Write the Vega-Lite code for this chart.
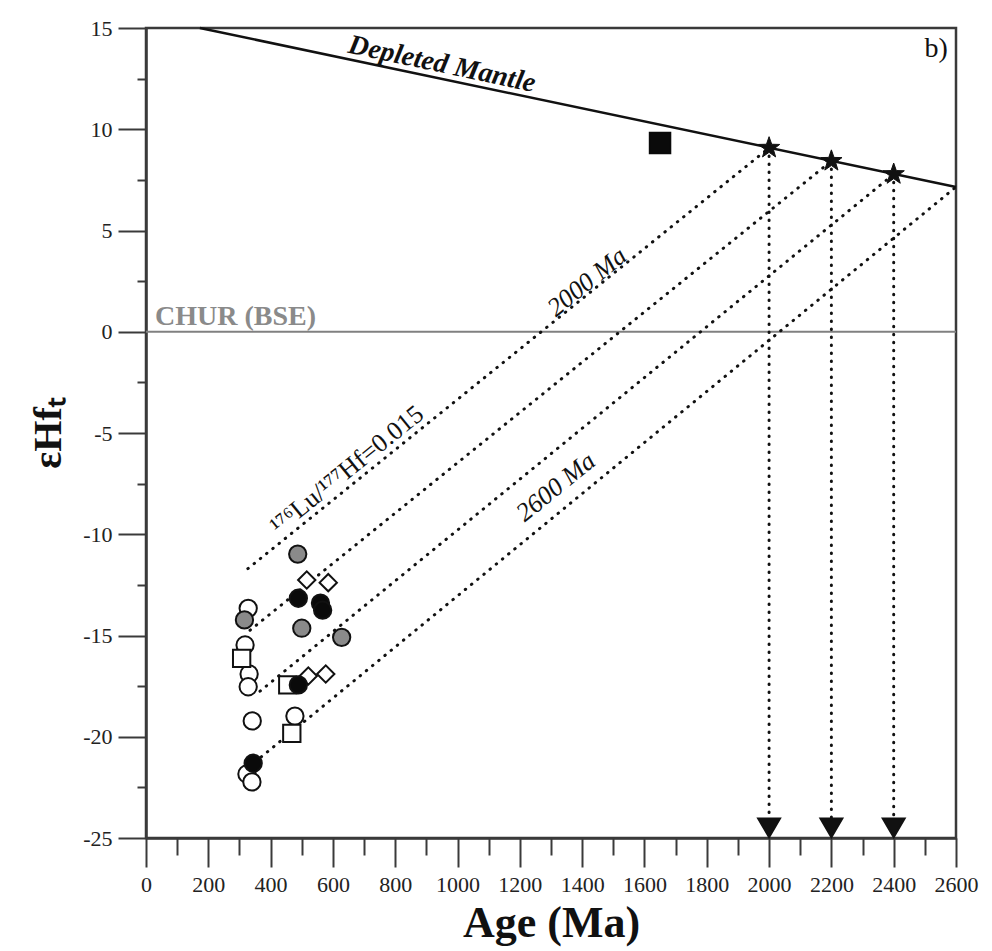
{
  "$schema": "https://vega.github.io/schema/vega-lite/v6.json",
  "width": 810,
  "height": 810,
  "autosize": {"type": "none"},
  "padding": {"left": 146, "top": 28, "right": 36, "bottom": 113},
  "background": "white",
  "config": {
    "view": {"stroke": "#3a3a3a", "strokeWidth": 2.5},
    "font": "Liberation Serif"
  },
  "datasets": {
    "lines": [
      {"id": "DM", "age": 173, "ehf": 15},
      {"id": "DM", "age": 2600, "ehf": 7.15}
    ],
    "chur": [
      {"id": "CHUR", "age": 0, "ehf": 0},
      {"id": "CHUR", "age": 2600, "ehf": 0}
    ],
    "dotted": [
      {"id": "A", "age": 327, "ehf": -11.7},
      {"id": "A", "age": 2000, "ehf": 9.08},
      {"id": "B", "age": 334, "ehf": -14.74},
      {"id": "B", "age": 2200, "ehf": 8.43},
      {"id": "C", "age": 366, "ehf": -17.75},
      {"id": "C", "age": 2400, "ehf": 7.78},
      {"id": "D", "age": 330, "ehf": -21.5},
      {"id": "D", "age": 2600, "ehf": 7.15},
      {"id": "V1", "age": 2000, "ehf": 9.08},
      {"id": "V1", "age": 2000, "ehf": -24.5},
      {"id": "V2", "age": 2200, "ehf": 8.43},
      {"id": "V2", "age": 2200, "ehf": -24.5},
      {"id": "V3", "age": 2400, "ehf": 7.78},
      {"id": "V3", "age": 2400, "ehf": -24.5}
    ],
    "samples": [
      {"type": "open circle", "age": 328, "ehf": -13.66},
      {"type": "open circle", "age": 318, "ehf": -15.47},
      {"type": "open circle", "age": 331, "ehf": -16.9},
      {"type": "open circle", "age": 328, "ehf": -17.53},
      {"type": "open circle", "age": 341, "ehf": -19.22},
      {"type": "open circle", "age": 478, "ehf": -18.98},
      {"type": "open circle", "age": 324, "ehf": -21.84},
      {"type": "open circle", "age": 340, "ehf": -22.23},
      {"type": "open square", "age": 307, "ehf": -16.13},
      {"type": "open square", "age": 455, "ehf": -17.44},
      {"type": "open square", "age": 468, "ehf": -19.83},
      {"type": "open diamond", "age": 516, "ehf": -12.26},
      {"type": "open diamond", "age": 585, "ehf": -12.39},
      {"type": "open diamond", "age": 521, "ehf": -17.0},
      {"type": "open diamond", "age": 577, "ehf": -16.9},
      {"type": "gray circle", "age": 487, "ehf": -10.98},
      {"type": "gray circle", "age": 316, "ehf": -14.23},
      {"type": "gray circle", "age": 500, "ehf": -14.64},
      {"type": "gray circle", "age": 628, "ehf": -15.09},
      {"type": "black circle", "age": 489, "ehf": -13.16},
      {"type": "black circle", "age": 560, "ehf": -13.4},
      {"type": "black circle", "age": 567, "ehf": -13.75},
      {"type": "black circle", "age": 489, "ehf": -17.44},
      {"type": "black circle", "age": 344, "ehf": -21.31}
    ],
    "stars": [
      {"age": 2000, "ehf": 9.08},
      {"age": 2200, "ehf": 8.43},
      {"age": 2400, "ehf": 7.78}
    ],
    "triangles": [
      {"age": 2000, "ehf": -24.5},
      {"age": 2200, "ehf": -24.5},
      {"age": 2400, "ehf": -24.5}
    ],
    "square": [
      {"age": 1650, "ehf": 9.32}
    ]
  },
  "encoding": {
    "x": {
      "field": "age",
      "type": "quantitative",
      "scale": {"domain": [0, 2600], "nice": false, "zero": false},
      "axis": {
        "values": [0, 100, 200, 300, 400, 500, 600, 700, 800, 900, 1000, 1100, 1200, 1300, 1400, 1500, 1600, 1700, 1800, 1900, 2000, 2100, 2200, 2300, 2400, 2500, 2600],
        "labelExpr": "datum.value % 200 === 0 ? '' + datum.value : ''",
        "tickSize": {"condition": {"test": "datum.value % 200 !== 0", "value": 17}, "value": 29},
        "labelPadding": 7,
        "labelFontSize": 22,
        "labelFont": "Liberation Serif",
        "labelColor": "#222",
        "labelOverlap": false,
        "labelFlush": false,
        "title": "Age (Ma)",
        "titleFont": "Liberation Serif",
        "titleFontSize": 44,
        "titleFontWeight": "bold",
        "titleColor": "#111",
        "titlePadding": 6,
        "domainColor": "#3a3a3a",
        "domainWidth": 2.5,
        "tickColor": "#3a3a3a",
        "tickWidth": 2,
        "grid": false
      }
    },
    "y": {
      "field": "ehf",
      "type": "quantitative",
      "scale": {"domain": [-25, 15], "nice": false, "zero": false},
      "axis": {
        "values": [-25, -22.5, -20, -17.5, -15, -12.5, -10, -7.5, -5, -2.5, 0, 2.5, 5, 7.5, 10, 12.5, 15],
        "labelExpr": "datum.value % 5 === 0 ? '' + datum.value : ''",
        "tickSize": {"condition": {"test": "datum.value % 5 !== 0", "value": 9}, "value": 28},
        "labelPadding": 6,
        "labelFontSize": 22,
        "labelFont": "Liberation Serif",
        "labelColor": "#222",
        "labelOverlap": false,
        "labelFlush": false,
        "title": "εHfₜ",
        "titleFont": "Liberation Serif",
        "titleFontSize": 40,
        "titleFontWeight": "bold",
        "titleColor": "#111",
        "titlePadding": 14,
        "domainColor": "#3a3a3a",
        "domainWidth": 2.5,
        "tickColor": "#3a3a3a",
        "tickWidth": 2,
        "grid": false
      }
    }
  },
  "layer": [
    {
      "data": {"name": "chur"},
      "mark": {"type": "line", "color": "#808080", "strokeWidth": 2},
      "encoding": {"detail": {"field": "id"}}
    },
    {
      "data": {"name": "dotted"},
      "mark": {"type": "line", "color": "#111", "strokeWidth": 3, "strokeDash": [0.5, 7.5], "strokeCap": "round"},
      "encoding": {"detail": {"field": "id"}}
    },
    {
      "data": {"name": "lines"},
      "mark": {"type": "line", "color": "#111", "strokeWidth": 2.5},
      "encoding": {"detail": {"field": "id"}}
    },
    {
      "data": {"name": "samples"},
      "mark": {"type": "point", "filled": true, "stroke": "#111", "strokeWidth": 2, "size": 300, "opacity": 1, "fillOpacity": 1, "strokeOpacity": 1},
      "encoding": {
        "shape": {
          "field": "type",
          "scale": {
            "domain": ["open circle", "open square", "open diamond", "gray circle", "black circle"],
            "range": ["circle", "square", "diamond", "circle", "circle"]
          },
          "legend": null
        },
        "fill": {
          "field": "type",
          "scale": {
            "domain": ["open circle", "open square", "open diamond", "gray circle", "black circle"],
            "range": ["white", "white", "white", "#8a8a8a", "#0a0a0a"]
          },
          "legend": null
        }
      }
    },
    {
      "data": {"name": "triangles"},
      "mark": {"type": "point", "shape": "triangle-down", "filled": true, "fill": "#111", "stroke": "#111", "size": 480, "opacity": 1}
    },
    {
      "data": {"name": "stars"},
      "mark": {"type": "point", "shape": "M0,-1L0.235,-0.324L0.951,-0.309L0.38,0.124L0.588,0.809L0,0.4L-0.588,0.809L-0.38,0.124L-0.951,-0.309L-0.235,-0.324Z", "filled": true, "fill": "#111", "stroke": "#111", "strokeWidth": 1, "size": 500, "opacity": 1}
    },
    {
      "data": {"name": "square"},
      "mark": {"type": "point", "shape": "square", "filled": true, "fill": "#0a0a0a", "stroke": "#0a0a0a", "size": 420, "opacity": 1}
    },
    {
      "data": {"values": [{"label": "Depleted Mantle", "age": 950, "ehf": 13.2}]},
      "mark": {"type": "text", "font": "Liberation Serif", "fontSize": 28, "fontWeight": "bold", "fontStyle": "italic", "angle": 12, "align": "center", "baseline": "middle", "color": "#111"},
      "encoding": {"text": {"field": "label"}}
    },
    {
      "data": {"values": [{"label": "CHUR (BSE)", "age": 29, "ehf": 0.75}]},
      "mark": {"type": "text", "font": "Liberation Serif", "fontSize": 28, "fontWeight": "bold", "angle": 0, "align": "left", "baseline": "middle", "color": "#8a8a8a"},
      "encoding": {"text": {"field": "label"}}
    },
    {
      "data": {"values": [{"label": "b)", "age": 2536, "ehf": 13.96}]},
      "mark": {"type": "text", "font": "Liberation Serif", "fontSize": 28, "align": "center", "baseline": "middle", "color": "#111"},
      "encoding": {"text": {"field": "label"}}
    },
    {
      "data": {"values": [{"label": "2000 Ma", "age": 1416, "ehf": 2.46}, {"label": "2600 Ma", "age": 1316, "ehf": -7.67}]},
      "mark": {"type": "text", "font": "Liberation Serif", "fontSize": 26, "fontStyle": "italic", "angle": -39, "align": "center", "baseline": "middle", "color": "#111"},
      "encoding": {"text": {"field": "label"}}
    },
    {
      "data": {"values": [{"label": "¹⁷⁶Lu/¹⁷⁷Hf=0.015", "age": 645, "ehf": -6.83}]},
      "mark": {"type": "text", "font": "Liberation Serif", "fontSize": 26, "angle": -39, "align": "center", "baseline": "middle", "color": "#111"},
      "encoding": {"text": {"field": "label"}}
    }
  ]
}
